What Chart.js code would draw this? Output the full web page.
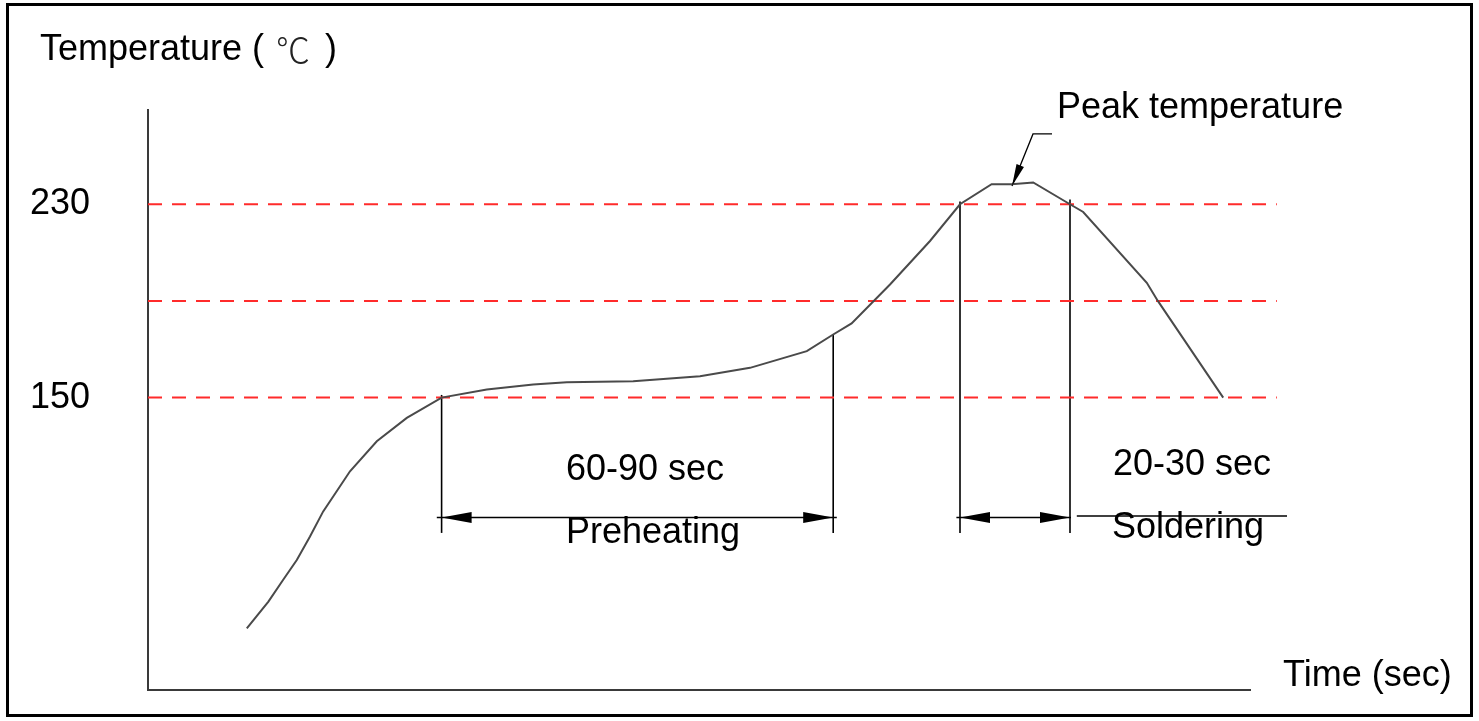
<!DOCTYPE html>
<html>
<head>
<meta charset="utf-8">
<script src="https://cdn.jsdelivr.net/npm/chart.js@4.4.1/dist/chart.umd.min.js"></script>
<style>
  html, body { margin: 0; padding: 0; background: #fff; }
  #wrap { width: 1479px; height: 721px; }
</style>
</head>
<body>
<div id="wrap"><canvas id="profile"></canvas></div>
<script>
// reflow soldering profile
const timeSec = [24.7, 30.1, 33.8, 37.2, 40.5, 43.8, 50.5, 57.2, 64.7, 73.4, 84.7, 96.3, 104.7, 121.3, 138,
                 150.5, 164.7, 171.3, 175.9, 185.5, 195.5, 203, 210.9, 215.9, 221.3, 230.5, 233.8, 249.7, 252.5, 268.8];
const tempC   = [54.5, 65.6, 74.6, 82.8, 92.5, 102.9, 119.5, 131.9, 141.6, 150, 153.3, 155.4, 156.3, 156.8, 158.8,
                 162.3, 169.2, 176.1, 180.7, 196.8, 214.8, 230, 238.3, 238.3, 239, 230, 226.8, 197.5, 189.9, 150];

const limitTemps = [150, 190, 230];
const yTicks = [150, 230];

// zone boundaries (sec) and where the curve meets them (deg C)
const preheatTimes = [73.4, 171.3];
const preheatTops  = [151.1, 176.1];
const solderTimes  = [203, 230.5];
const solderTops   = [231.1, 232.0];
const dimBottom = 94;
const dimLevel = 100.4;

// leader for the peak label
const peakLeaderX = [226, 221.25, 216];
const peakLeaderY = [259.1, 259.1, 237.6];

const FONT = "'Liberation Sans', Arial, sans-serif";

function seg(xs, ys, opts) {
    return Object.assign({
        data: xs.map((x, i) => ({ x: x, y: ys[i] })),
        borderColor: '#000',
        borderWidth: 1.6,
        pointRadius: 0,
        tension: 0,
        fill: false,
        clip: false
    }, opts || {});
}

const datasets = [];
datasets.push(seg(timeSec, tempC, { borderColor: '#4a4a4a', borderWidth: 2 }));
limitTemps.forEach(t => {
    datasets.push(seg([0, 282.2], [t, t], { borderColor: '#ff2b2b', borderWidth: 2, borderDash: [14, 10] }));
});
preheatTimes.forEach((t, i) => datasets.push(seg([t, t], [dimBottom, preheatTops[i]])));
solderTimes.forEach((t, i) => datasets.push(seg([t, t], [dimBottom, solderTops[i]])));
datasets.push(seg([72.2, 172.2], [dimLevel, dimLevel]));
datasets.push(seg([202.1, 230.75], [dimLevel, dimLevel]));
datasets.push(seg([232.2, 284.75], [101, 101]));
datasets.push(seg(peakLeaderX, peakLeaderY, { borderWidth: 1.3 }));

const arrowHeads = [
    { tip: [preheatTimes[0], dimLevel], tail: [preheatTimes[1], dimLevel], len: 30, half: 5.5 },
    { tip: [preheatTimes[1], dimLevel], tail: [preheatTimes[0], dimLevel], len: 30, half: 5.5 },
    { tip: [solderTimes[0], dimLevel], tail: [solderTimes[1], dimLevel], len: 30, half: 5.5 },
    { tip: [solderTimes[1], dimLevel], tail: [solderTimes[0], dimLevel], len: 30, half: 5.5 },
    { tip: [peakLeaderX[2], peakLeaderY[2]], tail: [peakLeaderX[1], peakLeaderY[1]], len: 22, half: 4 }
];

const notes = [
    { text: 'Peak temperature', x: 227.25, y: 269.8, align: 'left' },
    { text: '60-90 sec', x: 124.25, y: 120.0, align: 'center' },
    { text: 'Preheating', x: 126.25, y: 94.0, align: 'center' },
    { text: '20-30 sec', x: 261, y: 122.1, align: 'center' },
    { text: 'Soldering', x: 260, y: 96.0, align: 'center' },
    { text: 'Time (sec)', x: 283.75, y: 34.8, align: 'left' }
];

const decor = {
    id: 'decor',
    beforeDraw(chart) {
        const c = chart.ctx;
        c.save();
        c.fillStyle = '#fff';
        c.fillRect(0, 0, chart.width, chart.height);
        c.strokeStyle = '#000';
        c.lineWidth = 3;
        c.strokeRect(7.5, 4.5, 1464, 711);
        c.restore();
    },
    afterDatasetsDraw(chart) {
        const c = chart.ctx, xs = chart.scales.x, ys = chart.scales.y;
        c.save();
        c.fillStyle = '#000';
        arrowHeads.forEach(a => {
            const tx = xs.getPixelForValue(a.tip[0]), ty = ys.getPixelForValue(a.tip[1]);
            const bx = xs.getPixelForValue(a.tail[0]), by = ys.getPixelForValue(a.tail[1]);
            const d = Math.hypot(bx - tx, by - ty);
            const ux = (bx - tx) / d, uy = (by - ty) / d;
            const cx = tx + ux * a.len, cy = ty + uy * a.len;
            c.beginPath();
            c.moveTo(tx, ty);
            c.lineTo(cx - uy * a.half, cy + ux * a.half);
            c.lineTo(cx + uy * a.half, cy - ux * a.half);
            c.closePath();
            c.fill();
        });
        c.font = '36px ' + FONT;
        c.textBaseline = 'middle';
        notes.forEach(n => {
            c.textAlign = n.align;
            c.fillText(n.text, xs.getPixelForValue(n.x), ys.getPixelForValue(n.y));
        });
        // axis caption: the degree sign comes from a CJK face, as in the drawing
        c.textAlign = 'left';
        c.fillText('Temperature (', 40, 50);
        c.fillText(')', 325, 50);
        c.font = "300 34px 'Noto Sans CJK SC', sans-serif";
        c.fillStyle = '#222';
        c.fillText('\u2103', 276, 50);
        c.restore();
    }
};

new Chart(document.getElementById('profile'), {
    type: 'line',
    data: { datasets: datasets },
    options: {
        responsive: true,
        maintainAspectRatio: false,
        animation: false,
        layout: { padding: { top: 110, right: 229, left: 0, bottom: 0 } },
        plugins: { legend: { display: false }, tooltip: { enabled: false } },
        scales: {
            x: {
                type: 'linear',
                min: 0,
                max: 275.5,
                grid: { display: false, drawTicks: false },
                border: { display: true, color: '#3a3a3a', width: 2 },
                ticks: { display: false },
                afterFit: s => { s.height = 31; s.paddingLeft = 0; s.paddingRight = 0; }
            },
            y: {
                min: 29,
                max: 269,
                grid: { display: false, drawTicks: false },
                border: { display: true, color: '#3a3a3a', width: 2 },
                afterBuildTicks: s => { s.ticks = yTicks.map(v => ({ value: v })); },
                ticks: {
                    padding: 58,
                    color: '#000',
                    font: { family: FONT, size: 36 },
                    callback: v => String(v)
                },
                afterFit: s => { s.width = 148; s.paddingTop = 0; s.paddingBottom = 0; }
            }
        }
    },
    plugins: [decor]
});
</script>
</body>
</html>
